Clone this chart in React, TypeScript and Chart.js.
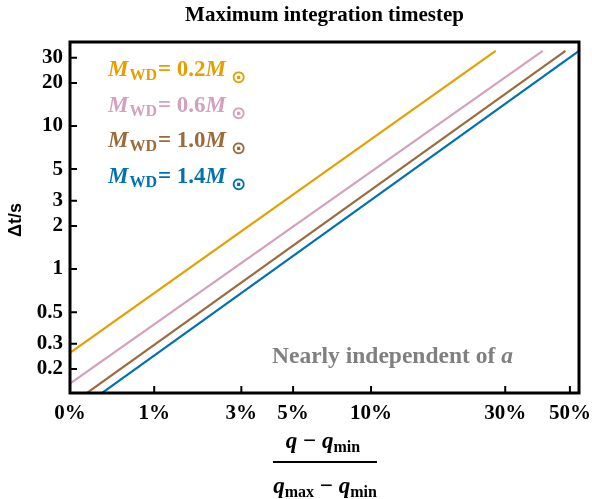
import React, { useEffect, useRef } from 'react';
import { Chart, registerables } from 'chart.js';

Chart.register(...registerables);

// ---- data ----
const X_TICKS = [0, 1, 3, 5, 10, 30, 50]; // percent
const Y_TICKS = [0.2, 0.3, 0.5, 1, 2, 3, 5, 10, 20, 30];
const MASSES = ['0.2', '0.6', '1.0', '1.4'];
const COLORS = ['#E69F00', '#D3A1BC', '#9C6B3C', '#0072B2'];

const ORANGE_X = [0, 27.8];
const ORANGE_Y = [0.26, 33.6];
const PINK_X = [0, 40.4];
const PINK_Y = [0.158, 33.6];
const BROWN_X = [0, 48.3];
const BROWN_Y = [0.112, 33.6];
const BLUE_X = [0, 53.7];
const BLUE_Y = [0.094, 33.6];

const X_MAX = 53.7;
const Y_MIN = 0.136;
const Y_MAX = 38.7;
const C = 1.1;
const u = (p: number) => Math.log10(1 + p / C);

const SERIES = [
  [ORANGE_X, ORANGE_Y],
  [PINK_X, PINK_Y],
  [BROWN_X, BROWN_Y],
  [BLUE_X, BLUE_Y],
];

const SERIF = '"Liberation Serif", "DejaVu Serif", serif';

type Run = { t: string; font: string; dy?: number; gap?: number };

function drawRuns(ctx: CanvasRenderingContext2D, runs: Run[], x: number, y: number, color: string, align: 'left' | 'center' = 'left') {
  ctx.save();
  ctx.fillStyle = color;
  ctx.textBaseline = 'alphabetic';
  ctx.textAlign = 'left';
  let total = 0;
  for (const r of runs) {
    ctx.font = r.font;
    total += ctx.measureText(r.t).width + (r.gap || 0);
  }
  let cx = align === 'center' ? x - total / 2 : x;
  for (const r of runs) {
    ctx.font = r.font;
    cx += r.gap || 0;
    ctx.fillText(r.t, cx, y + (r.dy || 0));
    cx += ctx.measureText(r.t).width;
  }
  ctx.restore();
  return total;
}

const decorPlugin = {
  id: 'decor',
  afterDraw(chart: any) {
    const { ctx, chartArea: a, scales } = chart;
    const xs = scales.x;
    const ys = scales.y;
    ctx.save();
    // frame
    ctx.strokeStyle = '#000';
    ctx.lineWidth = 3;
    ctx.strokeRect(a.left, a.top, a.right - a.left, a.bottom - a.top);
    // ticks
    ctx.lineWidth = 2;
    ctx.beginPath();
    for (const p of X_TICKS) {
      const px = xs.getPixelForValue(u(p));
      ctx.moveTo(px, a.bottom);
      ctx.lineTo(px, a.bottom - 7);
    }
    for (const v of Y_TICKS) {
      const py = ys.getPixelForValue(v);
      ctx.moveTo(a.left, py);
      ctx.lineTo(a.left + 7, py);
    }
    ctx.stroke();

    // title
    ctx.fillStyle = '#000';
    ctx.font = `bold 21px ${SERIF}`;
    ctx.textAlign = 'center';
    ctx.textBaseline = 'alphabetic';
    ctx.fillText('Maximum integration timestep', (a.left + a.right) / 2, 21);

    // y title
    ctx.save();
    ctx.translate(16, 220);
    ctx.rotate(-Math.PI / 2);
    ctx.font = 'bold 18px "Liberation Sans", Arial, sans-serif';
    ctx.textAlign = 'center';
    ctx.textBaseline = 'middle';
    ctx.fillText('\u0394t/s', 0, 0);
    ctx.restore();

    // x title fraction
    const big = `bold 23px ${SERIF}`;
    const bigI = `italic bold 23px ${SERIF}`;
    const sub = `bold 16px ${SERIF}`;
    drawRuns(ctx, [
      { t: 'q', font: bigI },
      { t: ' \u2212 ', font: big },
      { t: 'q', font: bigI },
      { t: 'min', font: sub, dy: 4 },
    ], 323, 448, '#000', 'center');
    ctx.strokeStyle = '#000';
    ctx.lineWidth = 2;
    ctx.beginPath();
    ctx.moveTo(273, 462);
    ctx.lineTo(377, 462);
    ctx.stroke();
    drawRuns(ctx, [
      { t: 'q', font: bigI },
      { t: 'max', font: sub, dy: 4 },
      { t: ' \u2212 ', font: big },
      { t: 'q', font: bigI },
      { t: 'min', font: sub, dy: 4 },
    ], 325, 493, '#000', 'center');

    // legend labels
    MASSES.forEach((m, i) => {
      const y = 76 + i * 35.5;
      drawRuns(ctx, [
        { t: 'M', font: bigI },
        { t: 'WD', font: sub, dy: 4, gap: 1 },
        { t: '= ' + m, font: big, gap: 1 },
        { t: 'M', font: bigI },
        { t: '\u2299', font: `bold 18px "DejaVu Sans", sans-serif`, dy: 7, gap: 5 },
      ], 108, y, COLORS[i]);
    });

    // annotation
    drawRuns(ctx, [
      { t: 'Nearly independent of ', font: `bold 23.5px ${SERIF}` },
      { t: 'a', font: `italic bold 23.5px ${SERIF}` },
    ], 272, 363, '#808080');
    ctx.restore();
  },
};

export default function App() {
  const ref = useRef<HTMLCanvasElement | null>(null);
  useEffect(() => {
    if (!ref.current) return;
    const chart = new Chart(ref.current, {
      type: 'scatter',
      data: {
        datasets: SERIES.map(([xs, ys], i) => ({
          label: MASSES[i],
          data: xs.map((p, j) => ({ x: u(p), y: ys[j] })),
          showLine: true,
          borderColor: COLORS[i],
          backgroundColor: COLORS[i],
          borderWidth: 2.2,
          pointRadius: 0,
        })),
      },
      options: {
        responsive: false,
        animation: false,
        devicePixelRatio: 1,
        layout: { padding: { top: 42, right: 13, left: 0, bottom: 0 } },
        plugins: { legend: { display: false }, title: { display: false }, tooltip: { enabled: false } },
        scales: {
          x: {
            type: 'linear',
            min: 0,
            max: u(X_MAX),
            grid: { display: false, drawTicks: false },
            border: { display: false },
            afterBuildTicks: (s: any) => {
              s.ticks = X_TICKS.map((p) => ({ value: u(p) }));
            },
            afterFit: (s: any) => {
              s.height = 106;
              s.paddingLeft = 0;
              s.paddingRight = 0;
            },
            ticks: {
              autoSkip: false,
              maxRotation: 0,
              padding: 8,
              color: '#000',
              font: { family: SERIF, size: 21, weight: 'bold' },
              callback: (_v: any, i: number) => X_TICKS[i] + '%',
            },
          },
          y: {
            type: 'logarithmic',
            min: Y_MIN,
            max: Y_MAX,
            grid: { display: false, drawTicks: false },
            border: { display: false },
            afterBuildTicks: (s: any) => {
              s.ticks = Y_TICKS.map((v) => ({ value: v }));
            },
            afterFit: (s: any) => {
              s.width = 70;
              s.paddingTop = 0;
              s.paddingBottom = 0;
            },
            ticks: {
              autoSkip: false,
              padding: 7,
              color: '#000',
              font: { family: SERIF, size: 21, weight: 'bold' },
              callback: (v: any) => String(v),
            },
          },
        },
      } as any,
      plugins: [decorPlugin],
    });
    return () => chart.destroy();
  }, []);
  return (
    <div style={{ position: 'absolute', left: 0, top: 0, width: 592, height: 499, background: '#fff' }}>
      <canvas ref={ref} width={592} height={499} />
    </div>
  );
}
